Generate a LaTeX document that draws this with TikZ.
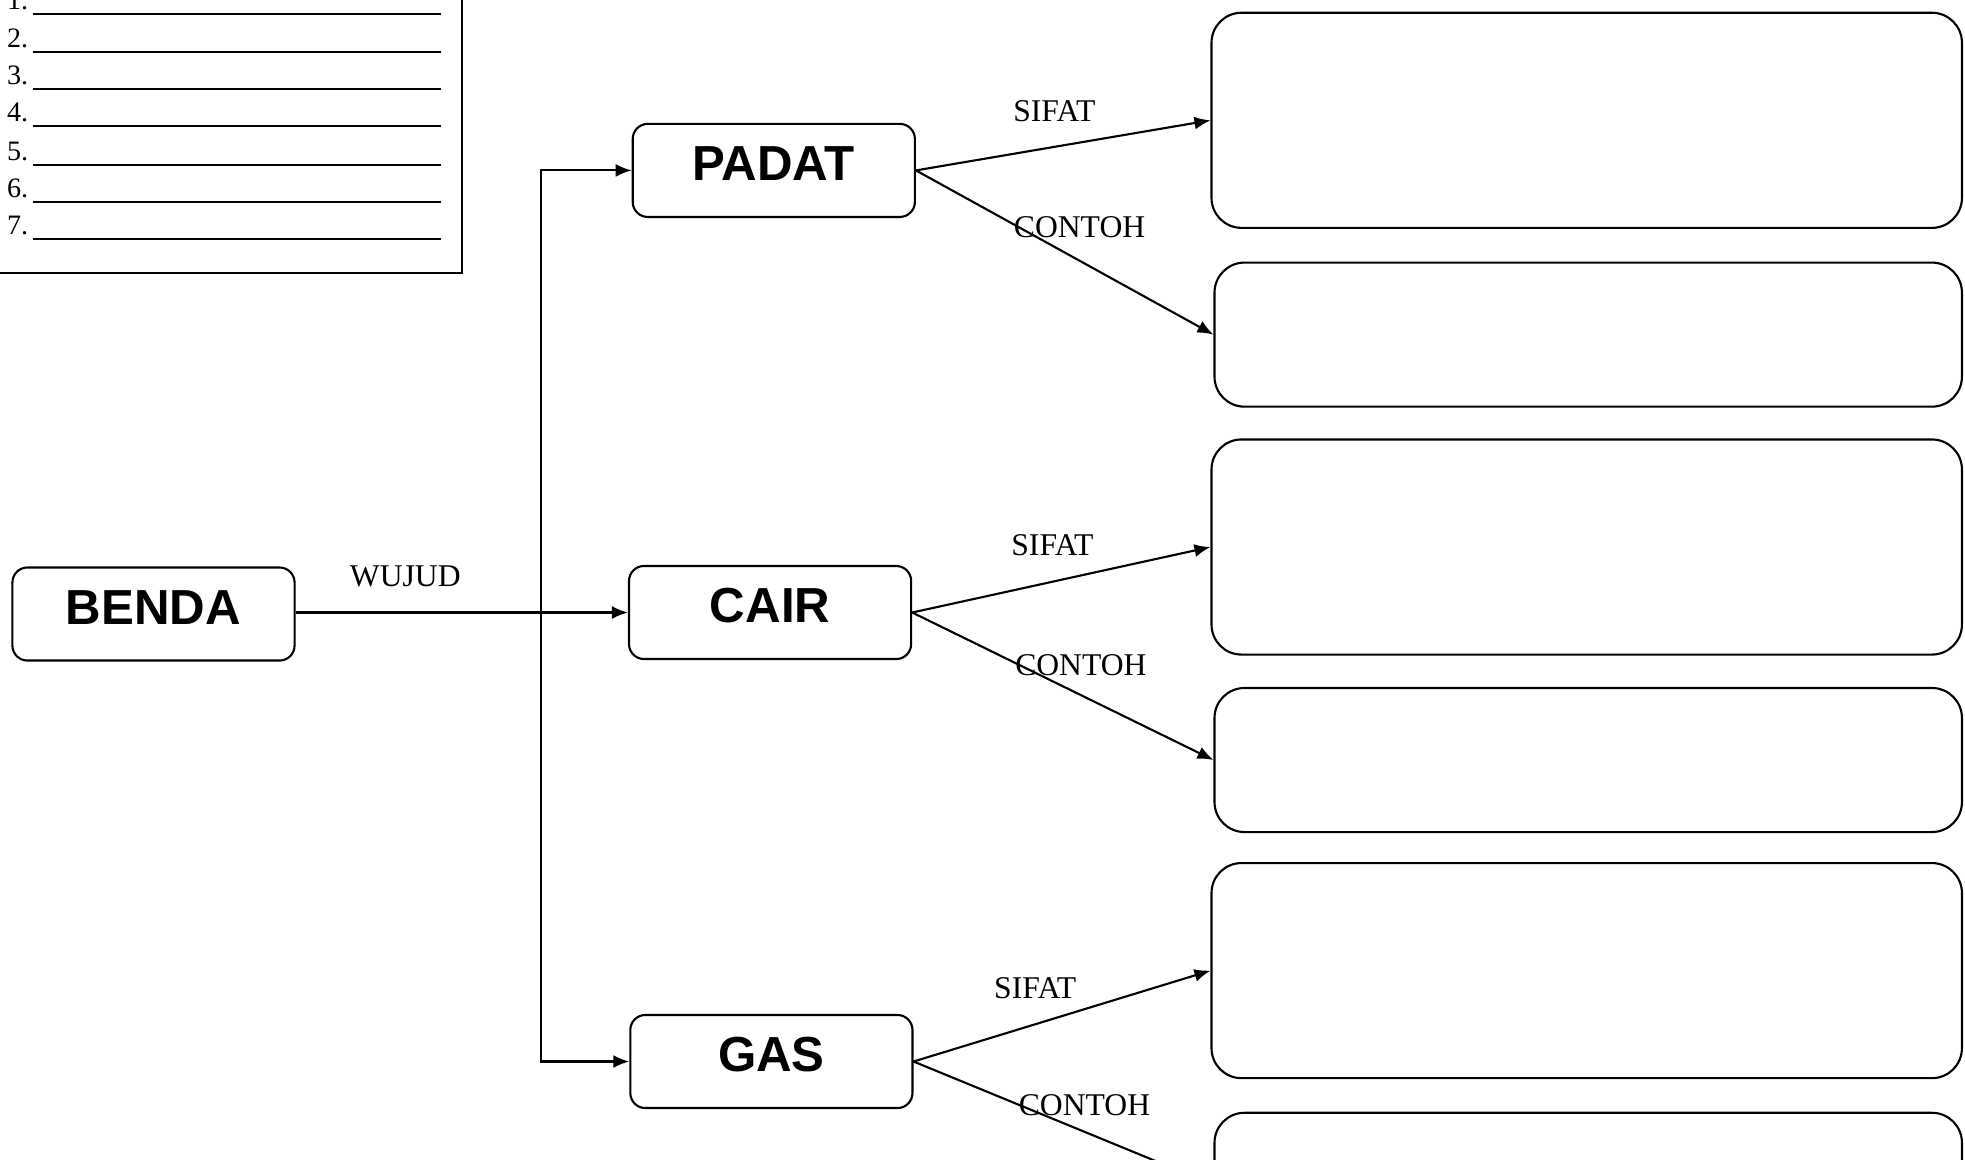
\documentclass[tikz,border=0pt]{standalone}
\usepackage{fontspec}
\setmainfont{Liberation Serif}
\setsansfont{Liberation Sans}
\usetikzlibrary{arrows.meta}

\begin{document}
\begin{tikzpicture}[x=0.01cm,y=-0.01cm,line width=0.6pt,
  >={Latex[length=1.6mm,width=1.3mm]},
  kotak/.style={draw,rounded corners=1.5mm,minimum width=2.82cm,minimum height=0.93cm,
    inner sep=0pt,text height=10pt,text depth=4.2pt,
    font=\sffamily\bfseries\fontsize{14}{16}\selectfont},
  sifatbox/.style={draw,rounded corners=3mm,inner sep=0pt,anchor=east,
    minimum width=7.5cm,minimum height=2.15cm},
  contohbox/.style={draw,rounded corners=3mm,inner sep=0pt,anchor=east,
    minimum width=7.47cm,minimum height=1.44cm},
  ket/.style={font=\fontsize{9}{11}\selectfont}]

  \useasboundingbox (0,0) rectangle (1965,1159);
  \clip (0,0) rectangle (1965,1159);

  % daftar isian
  \draw (-10,-10) rectangle (462,273);
  \foreach \i/\y in {1/14,2/52,3/89,4/126,5/165,6/202,7/239}{
    \node[anchor=base west,inner sep=0pt,font=\fontsize{8}{10}\selectfont] (no\i) at (6,\y-5) {\i.};
    \draw[line width=0.7pt] (33,\y) -- (441,\y);
  }

  % benda dan wujudnya
  \node[kotak] (benda) at (153.5,614) {BENDA};
  \node[kotak] (padat) at (773.8,170.4) {PADAT};
  \node[kotak] (cair) at (770.1,612.5) {CAIR};
  \node[kotak] (gas) at (771.4,1061.5) {GAS};
  \coordinate (cabang) at (541.4,612.5);
  \draw[->] (benda.east |- cair.west) -- node[ket,pos=.33,above=3.5pt] {WUJUD} (cair.west);
  \draw[->] (cabang) |- (padat.west);
  \draw[->] (cabang) |- (gas.west);

  % PADAT
  \node[sifatbox] (sifat1) at (1963,120.3) {};
  \node[contohbox] (contoh1) at (1963,334.6) {};
  \draw[->] (padat.east) -- node[ket,pos=.47,above=3.4pt] {SIFAT} (sifat1.west);
  \draw[->] (padat.east) -- node[ket,pos=.55,above=3pt] {CONTOH} (contoh1.west);

  % CAIR
  \node[sifatbox] (sifat2) at (1963,547) {};
  \node[contohbox] (contoh2) at (1963,760) {};
  \draw[->] (cair.east) -- node[ket,pos=.47,above=3.8pt] {SIFAT} (sifat2.west);
  \draw[->] (cair.east) -- node[ket,pos=.56,above=1.8pt] {CONTOH} (contoh2.west);

  % GAS
  \node[sifatbox] (sifat3) at (1963,970.6) {};
  \node[contohbox] (contoh3) at (1963,1184.8) {};
  \draw[->] (gas.east) -- node[ket,pos=.41,above=3.7pt] {SIFAT} (sifat3.west);
  \draw[->] (gas.east) -- node[ket,pos=.57,above=1pt] {CONTOH} (contoh3.west);
\end{tikzpicture}
\end{document}
